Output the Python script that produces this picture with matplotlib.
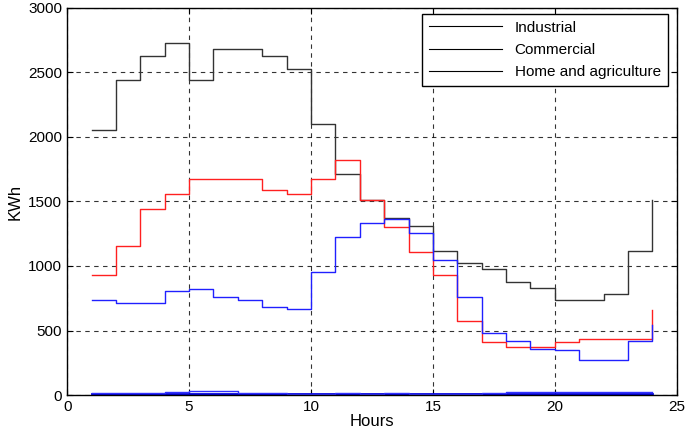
import numpy as np
import matplotlib
matplotlib.use("Agg")
import matplotlib.pyplot as plt
from matplotlib.lines import Line2D

plt.rcParams['font.family'] = ['Liberation Sans', 'DejaVu Sans']

hours = np.arange(1, 25)

# hourly consumption (KWh)
industrial = [2050, 2440, 2630, 2730, 2440, 2680, 2680, 2630, 2530, 2100,
              1710, 1515, 1370, 1310, 1115, 1020, 980, 875, 830, 735,
              735, 780, 1120, 1515]
commercial = [930, 1155, 1445, 1560, 1675, 1675, 1675, 1585, 1560, 1675,
              1820, 1510, 1305, 1105, 930, 575, 410, 375, 372, 410,
              435, 435, 435, 660]
home_agri = [735, 715, 715, 810, 820, 760, 740, 680, 665, 955,
             1225, 1330, 1365, 1255, 1045, 760, 480, 415, 360, 350,
             270, 270, 420, 540]
# two small series hugging the zero line
small_a = [8, 8, 8, 8, 8, 8, 8, 8, 8, 8, 8, 8, 8, 8, 8, 8, 8, 8, 8, 8,
           8, 8, 8, 8]
small_b = [12, 12, 12, 24, 34, 34, 12, 12, 5, 5, 12, 5, 12, 5, 5, 5,
           12, 22, 22, 22, 22, 22, 22, 22]

fig = plt.figure(figsize=(6.85, 4.37), dpi=100)
ax = fig.add_axes([0.098, 0.096, 0.890, 0.886])

ax.step(hours, industrial, where='post', color='#333333', linewidth=1.0)
ax.step(hours, commercial, where='post', color='#ff2020', linewidth=1.0)
ax.step(hours, home_agri, where='post', color='#2020ff', linewidth=1.0)
ax.step(hours, small_a, where='post', color='#0000dd', linewidth=2.0)
ax.step(hours, small_b, where='post', color='#3030ff', linewidth=1.0)

ax.set_xlim(0, 25)
ax.set_ylim(0, 3000)
ax.set_xticks(np.arange(0, 26, 5))
ax.set_yticks(np.arange(0, 3001, 500))
ax.grid(True, color='black', linestyle=(0, (4, 4)), linewidth=0.8, alpha=0.8)
ax.tick_params(direction='in', top=True, right=True, labelsize=11, length=4)
for s in ax.spines.values():
    s.set_linewidth(1.0)

ax.set_xlabel('Hours', fontsize=12, labelpad=0)
ax.set_ylabel('KWh', fontsize=12, labelpad=4)

handles = [Line2D([], [], color='black', linewidth=0.8) for _ in range(3)]
leg = ax.legend(handles, ['Industrial', 'Commercial', 'Home and agriculture'],
                loc='upper right', fontsize=11, fancybox=False, framealpha=1,
                edgecolor='black', handlelength=4.8, handletextpad=0.8,
                borderpad=0.45, labelspacing=0.55, borderaxespad=0,
                bbox_to_anchor=(0.985, 0.985))
leg.get_frame().set_linewidth(1.0)

fig.savefig('out.png', dpi=100)
